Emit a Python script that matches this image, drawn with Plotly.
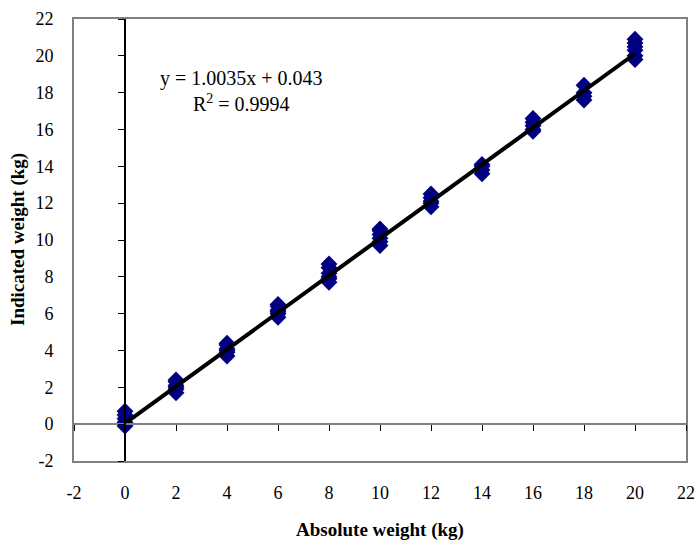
import plotly.graph_objects as go

# Data
x_levels = [0, 2, 4, 6, 8, 10, 12, 14, 16, 18, 20]
readings_0 = [-0.1, 0.0, 0.1, 0.3, 0.5, 0.7]
readings_2 = [1.7, 1.9, 2.0, 2.1, 2.3, 2.4]
readings_4 = [3.7, 3.9, 4.0, 4.1, 4.3, 4.4]
readings_6 = [5.8, 6.0, 6.1, 6.2, 6.4, 6.5]
readings_8 = [7.7, 7.9, 8.0, 8.2, 8.5, 8.7]
readings_10 = [9.7, 9.9, 10.1, 10.3, 10.5, 10.6]
readings_12 = [11.8, 12.0, 12.1, 12.3, 12.5]
readings_14 = [13.6, 13.8, 14.0, 14.1]
readings_16 = [15.9, 16.0, 16.2, 16.4, 16.6]
readings_18 = [17.6, 17.8, 18.0, 18.4]
readings_20 = [19.8, 20.0, 20.3, 20.5, 20.7, 20.9]

slope = 1.0035
intercept = 0.043
r_squared = 0.9994
fit_x = [0, 20]

tick_vals = list(range(-2, 23, 2))
tick_text = [str(v) for v in tick_vals]  # plain hyphen for "-2"

x_title = "Absolute weight (kg)"
y_title = "Indicated weight (kg)"

all_readings = [readings_0, readings_2, readings_4, readings_6, readings_8, readings_10,
                readings_12, readings_14, readings_16, readings_18, readings_20]
xs, ys = [], []
for xv, rv in zip(x_levels, all_readings):
    for v in rv:
        xs.append(xv)
        ys.append(v)

fit_y = [slope * v + intercept for v in fit_x]

FONT = "Liberation Serif, Times New Roman, serif"

fig = go.Figure()
fig.add_trace(go.Scatter(x=xs, y=ys, mode="markers",
                         marker=dict(symbol="diamond", size=13, color="#000080",
                                     line=dict(width=0)),
                         showlegend=False, hoverinfo="skip"))
fig.add_trace(go.Scatter(x=fit_x, y=fit_y, mode="lines", xaxis="x2", yaxis="y2",
                         line=dict(color="black", width=4),
                         showlegend=False, hoverinfo="skip"))

fig.update_layout(
    width=696, height=541,
    margin=dict(l=74, r=10, t=19, b=80, autoexpand=False),
    paper_bgcolor="white", plot_bgcolor="white",
    font=dict(family=FONT, size=18, color="black"),
    xaxis=dict(range=[-2, 22], tickvals=tick_vals, ticktext=tick_text,
               showgrid=False, zeroline=False, automargin=False,
               showline=True, mirror=True, linecolor="#808080", linewidth=2,
               ticks="", ticklabelstandoff=14, ticklabeloverflow="allow",
               title=dict(text=f"<b>{x_title}</b>", standoff=22,
                          font=dict(size=19))),
    yaxis=dict(range=[-2, 22], tickvals=tick_vals, ticktext=tick_text,
               showgrid=False, zeroline=False, automargin=False,
               showline=True, mirror=True, linecolor="#808080", linewidth=2,
               ticks="", ticklabelstandoff=15, ticklabeloverflow="allow"),
    xaxis2=dict(overlaying="x", matches="x", anchor="free", position=2 / 24,
                tickvals=tick_vals, showticklabels=False, showgrid=False, zeroline=False,
                showline=True, linecolor="#808080", linewidth=1.5, automargin=False,
                ticks="outside", ticklen=6, tickcolor="black", tickwidth=1),
    yaxis2=dict(overlaying="y", matches="y", anchor="free", position=2 / 24,
                tickvals=tick_vals, showticklabels=False, showgrid=False, zeroline=False,
                showline=True, linecolor="black", linewidth=1.5, side="left",
                automargin=False,
                ticks="outside", ticklen=6, tickcolor="black", tickwidth=1),
    annotations=[
        dict(xref="paper", yref="paper", x=0.274, y=0.838,
             xanchor="center", yanchor="middle", showarrow=False, align="center",
             text=f"y = {slope}x + {intercept}<br>R<sup>2</sup> = {r_squared}",
             font=dict(family=FONT, size=20, color="black")),
        dict(xref="paper", yref="paper", x=-0.0915, y=0.5, textangle=-90,
             xanchor="center", yanchor="middle", showarrow=False,
             text=f"<b>{y_title}</b>",
             font=dict(family=FONT, size=19, color="black")),
    ],
)

# remove the browser's default 8px body margin so the figure fills the window
fig.write_html("out.html",
               config={"displayModeBar": False},
               post_script="document.body.style.margin='0';document.body.style.overflow='hidden';")
